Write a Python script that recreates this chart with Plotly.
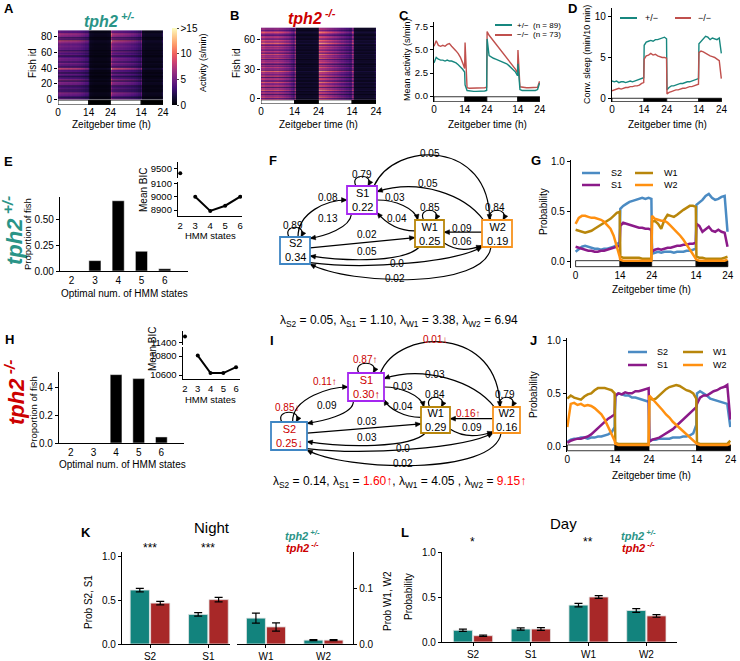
import plotly.graph_objects as go

W, H = 740, 661
FONT = "Liberation Sans, Arial, Helvetica, sans-serif"

# ---------------- data ----------------
T = [0, 1, 2, 3, 4, 5, 6, 7, 8, 9, 10, 11, 12, 13, 13.9,
     14.1, 15, 16, 17, 18, 19, 20, 21, 22, 23, 23.9,
     24.1, 25, 26, 27, 28, 29, 30, 31, 32, 33, 34, 35, 36, 37, 37.9,
     38.1, 39, 40, 41, 42, 43, 44, 45, 46, 47, 47.9]

act_het = [3.6, 4.2, 4.0, 3.9, 3.9, 3.8, 3.9, 3.8, 3.8, 3.7, 3.6, 3.4, 3.2, 2.9, 2.6,
           1.2, 0.6, 0.55, 0.5, 0.5, 0.5, 0.5, 0.5, 0.5, 0.55, 0.6,
           6.2, 4.4, 4.2, 4.1, 4.0, 3.9, 3.8, 3.7, 3.6, 3.5, 3.3, 3.1, 2.9, 2.6, 2.2,
           3.5, 0.7, 0.6, 0.6, 0.6, 0.6, 0.6, 0.6, 0.6, 0.7, 1.4]
act_mut = [5.4, 6.0, 5.5, 5.4, 5.5, 5.4, 5.6, 5.7, 5.4, 5.2, 4.9, 4.6, 4.2, 3.6, 3.0,
           5.8, 0.9, 0.85, 0.85, 0.85, 0.85, 0.85, 0.85, 0.9, 0.9, 0.95,
           7.0, 6.6, 6.3, 6.0, 5.7, 5.4, 5.1, 4.8, 4.5, 4.2, 3.9, 3.6, 3.3, 2.9, 2.5,
           5.0, 1.0, 0.95, 0.9, 0.9, 0.9, 0.9, 0.9, 0.9, 0.95, 1.6]
sleep_het = [2.1, 2.0, 2.1, 1.9, 2.0, 2.0, 1.9, 2.0, 2.1, 2.0, 2.1, 2.2, 2.3, 2.4, 2.5,
             6.5, 6.9, 7.0, 7.1, 7.0, 7.2, 7.2, 7.3, 7.4, 7.5, 7.3,
             1.0, 1.3, 1.5, 1.5, 1.6, 1.7, 1.8, 1.8, 1.9, 2.0, 2.0, 2.1, 2.2, 2.3, 2.4,
             6.7, 7.0, 7.4, 7.6, 7.5, 7.2, 7.4, 7.3, 7.2, 7.4, 5.5]
sleep_mut = [0.9, 1.0, 1.1, 1.2, 1.1, 1.2, 1.3, 1.3, 1.4, 1.4, 1.5, 1.5, 1.6, 1.8, 1.9,
             4.8, 5.2, 5.3, 5.5, 5.3, 5.4, 5.2, 5.1, 5.0, 5.0, 4.9,
             0.5, 0.7, 0.8, 0.9, 1.0, 1.0, 1.1, 1.2, 1.2, 1.3, 1.4, 1.4, 1.5, 1.6, 1.7,
             5.6, 5.8, 5.7, 5.5, 5.4, 5.2, 5.1, 5.0, 4.8, 4.6, 2.4]

A_levels = [1.2, 0.5, 1.5, 0.7, 1.0, 1.3, 0.4, 1.1, 1.6, 0.6, 1.0, 1.4, 0.5, 1.2, 0.7, 1.8, 1.0, 0.4, 1.3, 1.1,
            0.9, 1.5, 1.2, 0.4, 1.0, 1.7, 0.8, 1.1, 1.3, 0.5, 0.7, 1.2, 1.0, 1.6, 0.4, 1.1, 0.9, 1.4, 1.0, 2.4,
            1.3, 0.5, 1.0, 1.2, 0.8, 1.5, 0.4, 1.1, 0.6, 1.3, 1.0, 0.5, 1.4, 1.1, 0.9, 1.6, 0.4, 1.2, 1.0, 0.8,
            1.3, 1.5, 0.5, 1.1, 0.7, 1.2, 1.0, 1.4, 0.4, 1.1, 1.3, 0.9, 1.7, 1.0, 1.2, 2.3, 0.6, 1.1, 1.4, 0.5,
            1.2, 1.6, 1.0, 1.3, 2.0, 0.9, 1.5, 1.1, 1.0]
B_levels = [1.3, 0.6, 1.6, 1.0, 1.2, 0.5, 1.4, 1.1, 0.7, 1.8, 1.0, 1.3, 0.5, 1.5, 1.2, 0.9, 1.1, 1.7, 0.6, 1.0,
            1.4, 1.2, 0.5, 1.6, 1.0, 0.9, 1.3, 1.1, 1.9, 0.6, 1.2, 1.0, 1.5, 0.7, 1.3, 0.5, 1.1, 1.4, 1.0, 1.2,
            0.6, 1.6, 1.1, 0.9, 1.3, 1.0, 1.7, 0.6, 1.2, 1.4, 0.7, 1.1, 1.3, 1.0, 1.5, 0.6, 1.2, 1.9, 1.0, 1.3,
            1.6, 0.7, 1.1, 1.4, 1.2, 0.6, 1.0, 1.3, 1.7, 1.1, 0.7, 1.2, 1.0]

period_edges = [0, 14, 24, 38, 48]
period_phase = ['light', 'dark', 'light', 'dark']
time_tickvals = [0, 14, 24, 38, 48]
time_ticktext = ['0', '14', '24', '14', '24']

n_states = [2, 3, 4, 5, 6]
het_opt_prop = [0.0, 0.10, 0.676, 0.19, 0.022]
mut_opt_prop = [0.0, 0.0, 0.497, 0.468, 0.044]
het_bic = [9462, 9000, 8893, 8932, 9000]
mut_bic = [11480, 10805, 10620, 10620, 10683]

states = ['S2', 'S1', 'W1', 'W2']
het_occ = [0.34, 0.22, 0.25, 0.19]
mut_occ = [0.25, 0.30, 0.29, 0.16]
mut_occ_mark = ['↓', '↑', '', '']
het_lambda = [0.05, 1.10, 3.38, 6.94]
mut_lambda = [0.14, 1.60, 4.05, 9.15]
mut_lambda_mark = ['', '↑', '', '↑']
trans_pairs = [('S2', 'S2'), ('S1', 'S1'), ('W1', 'W1'), ('W2', 'W2'),
               ('S2', 'S1'), ('S1', 'S2'), ('S1', 'W1'), ('W1', 'S1'),
               ('W2', 'W1'), ('W1', 'W2'), ('S2', 'W1'), ('W1', 'S2'),
               ('S2', 'W2'), ('W2', 'S2'), ('S1', 'W2'), ('W2', 'S1')]
het_trans = [0.89, 0.79, 0.85, 0.84, 0.08, 0.13, 0.03, 0.04, 0.09, 0.06, 0.02, 0.05, 0.0, 0.02, 0.05, 0.05]
mut_trans = [0.85, 0.87, 0.84, 0.79, 0.11, 0.09, 0.03, 0.04, 0.16, 0.09, 0.03, 0.03, 0.0, 0.02, 0.01, 0.03]
mut_trans_mark = ['↓', '↑', '', '', '↑', '', '', '', '↑', '', '', '', '', '', '↓', '']

het_S2 = [0.10, 0.13, 0.15, 0.16, 0.15, 0.14, 0.13, 0.13, 0.12, 0.13, 0.13, 0.14, 0.15, 0.17, 0.20,
          0.53, 0.56, 0.58, 0.60, 0.61, 0.62, 0.63, 0.64, 0.63, 0.64, 0.63,
          0.08, 0.09, 0.10, 0.09, 0.10, 0.10, 0.10, 0.09, 0.10, 0.10, 0.10, 0.11, 0.11, 0.12, 0.13,
          0.57, 0.59, 0.62, 0.66, 0.68, 0.64, 0.62, 0.63, 0.65, 0.66, 0.30]
het_S1 = [0.15, 0.14, 0.13, 0.12, 0.11, 0.11, 0.10, 0.10, 0.11, 0.11, 0.12, 0.13, 0.14, 0.15, 0.16,
          0.36, 0.39, 0.38, 0.37, 0.36, 0.35, 0.34, 0.34, 0.33, 0.33, 0.32,
          0.10, 0.12, 0.13, 0.12, 0.13, 0.14, 0.14, 0.15, 0.16, 0.16, 0.17, 0.17, 0.18, 0.18, 0.19,
          0.38, 0.36, 0.30, 0.33, 0.35, 0.31, 0.30, 0.32, 0.30, 0.29, 0.15]
het_W1 = [0.32, 0.31, 0.30, 0.29, 0.30, 0.31, 0.33, 0.35, 0.37, 0.39, 0.41, 0.43, 0.46, 0.49, 0.50,
          0.05, 0.04, 0.04, 0.04, 0.04, 0.04, 0.04, 0.03, 0.03, 0.03, 0.03,
          0.40, 0.41, 0.38, 0.33, 0.42, 0.47, 0.46, 0.45, 0.47, 0.50, 0.52, 0.54, 0.56, 0.56, 0.55,
          0.05, 0.04, 0.04, 0.03, 0.03, 0.03, 0.03, 0.03, 0.03, 0.04, 0.05]
het_W2 = [0.38, 0.44, 0.46, 0.46, 0.45, 0.44, 0.44, 0.43, 0.42, 0.40, 0.37, 0.33, 0.26, 0.16, 0.05,
          0.02, 0.01, 0.01, 0.01, 0.01, 0.01, 0.01, 0.01, 0.01, 0.01, 0.01,
          0.46, 0.43, 0.42, 0.41, 0.41, 0.39, 0.36, 0.33, 0.30, 0.26, 0.22, 0.17, 0.13, 0.08, 0.03,
          0.02, 0.01, 0.01, 0.01, 0.01, 0.01, 0.01, 0.01, 0.01, 0.01, 0.02]
mut_S2 = [0.04, 0.06, 0.07, 0.07, 0.08, 0.08, 0.07, 0.08, 0.08, 0.09, 0.09, 0.10, 0.11, 0.13, 0.18,
          0.47, 0.50, 0.49, 0.48, 0.48, 0.46, 0.46, 0.45, 0.44, 0.43, 0.42,
          0.05, 0.06, 0.06, 0.07, 0.07, 0.07, 0.07, 0.08, 0.08, 0.08, 0.09, 0.09, 0.10, 0.12, 0.20,
          0.50, 0.52, 0.50, 0.48, 0.45, 0.44, 0.43, 0.42, 0.41, 0.40, 0.18]
mut_S1 = [0.03, 0.05, 0.06, 0.07, 0.07, 0.08, 0.09, 0.11, 0.14, 0.17, 0.20, 0.23, 0.26, 0.28, 0.30,
          0.48, 0.50, 0.49, 0.51, 0.50, 0.50, 0.52, 0.52, 0.53, 0.54, 0.55,
          0.04, 0.06, 0.07, 0.08, 0.10, 0.12, 0.14, 0.16, 0.19, 0.22, 0.25, 0.28, 0.31, 0.34, 0.37,
          0.40, 0.46, 0.48, 0.48, 0.50, 0.52, 0.53, 0.55, 0.56, 0.58, 0.25]
mut_W1 = [0.45, 0.48, 0.46, 0.45, 0.44, 0.47, 0.49, 0.50, 0.53, 0.55, 0.55, 0.55, 0.54, 0.53, 0.50,
          0.03, 0.02, 0.02, 0.02, 0.02, 0.02, 0.02, 0.02, 0.02, 0.02, 0.02,
          0.46, 0.44, 0.45, 0.48, 0.51, 0.54, 0.56, 0.57, 0.58, 0.57, 0.55, 0.53, 0.52, 0.50, 0.45,
          0.03, 0.02, 0.02, 0.02, 0.02, 0.02, 0.02, 0.02, 0.02, 0.02, 0.05]
mut_W2 = [0.18, 0.40, 0.41, 0.39, 0.40, 0.38, 0.39, 0.38, 0.36, 0.33, 0.30, 0.25, 0.18, 0.12, 0.05,
          0.02, 0.01, 0.01, 0.01, 0.01, 0.01, 0.01, 0.01, 0.01, 0.01, 0.01,
          0.48, 0.45, 0.41, 0.38, 0.34, 0.30, 0.27, 0.23, 0.20, 0.17, 0.14, 0.11, 0.08, 0.05, 0.03,
          0.02, 0.01, 0.01, 0.01, 0.01, 0.01, 0.01, 0.01, 0.01, 0.01, 0.02]

night_het = [0.62, 0.34, 0.047, 0.007]
night_het_err = [0.02, 0.02, 0.009, 0.001]
night_mut = [0.47, 0.51, 0.031, 0.007]
night_mut_err = [0.02, 0.025, 0.0075, 0.001]
day_het = [0.13, 0.144, 0.41, 0.35]
day_het_err = [0.012, 0.013, 0.02, 0.02]
day_mut = [0.07, 0.144, 0.50, 0.29]
day_mut_err = [0.008, 0.015, 0.015, 0.015]

# ---------------- styles ----------------
TEAL = '#17877f'
RED_L = '#c0504d'
TEAL_BAR = '#12837d'
RED_BAR = '#a82828'
T_TEAL = '#2a9487'
T_RED = '#cc0000'
STATE_COL = {'S2': '#4b8bc3', 'S1': '#8b1a89', 'W1': '#b8860b', 'W2': '#ff9010'}
BOX_COL = {'S2': '#3f86c4', 'S1': '#a526f0', 'W1': '#b8860b', 'W2': '#f7931e'}


def X(px):
    return px / W


def Y(py):
    return 1 - py / H


fig = go.Figure()
layout = {}
ann = []
shp = []

BASE = dict(showgrid=False, zeroline=False, showline=False, ticks='outside', ticklen=3, tickwidth=1,
            tickcolor='black', linecolor='black', linewidth=1.3,
            tickfont=dict(size=10, family=FONT, color='black'), fixedrange=True)


def axes(n, xpx, ypx, xr, yr, xkw=None, ykw=None):
    s = '' if n == 1 else str(n)
    xa = dict(BASE)
    xa.update(domain=[X(xpx[0]), X(xpx[1])], range=xr, anchor='y' + s)
    if xkw:
        xa.update(xkw)
    ya = dict(BASE)
    ya.update(domain=[Y(ypx[1]), Y(ypx[0])], range=yr, anchor='x' + s)
    if ykw:
        ya.update(ykw)
    layout['xaxis' + s] = xa
    layout['yaxis' + s] = ya
    return 'x' + s, 'y' + s


def text(s, px, py, size=10, color='black', angle=0, xa='center', ya='middle'):
    ann.append(dict(text=s, x=X(px), y=Y(py), xref='paper', yref='paper', showarrow=False,
                    xanchor=xa, yanchor=ya, textangle=angle,
                    font=dict(size=size, color=color, family=FONT)))


def lightbar(xr, yr, y0, y1):
    for a, b, ph in zip(period_edges[:-1], period_edges[1:], period_phase):
        shp.append(dict(type='rect', xref=xr, yref=yr, x0=a, x1=b, y0=y0, y1=y1,
                        fillcolor='white' if ph == 'light' else 'black',
                        line=dict(color='black', width=0.8), layer='below'))


def legline(x0, x1, y, color, width=2.5):
    shp.append(dict(type='line', xref='paper', yref='paper', x0=X(x0), x1=X(x1), y0=Y(y), y1=Y(y),
                    line=dict(color=color, width=width)))


def ticks_of(vals):
    return dict(tickvals=vals, ticktext=[str(v) for v in vals])


TIME_X = dict(tickvals=time_tickvals, ticktext=time_ticktext, ticks='')
HIDDEN_X = dict(showticklabels=False, ticks='', showline=False)
INSET_T = dict(tickfont=dict(size=9.5, family=FONT, color='black'))

# ---------------- A ----------------
xa, ya = axes(1, (58, 163), (28, 105), [0, 48], [-7.74, 91.6], TIME_X, ticks_of([0, 20, 40, 60, 80]))
fig.add_trace(go.Heatmap(x=T, y=list(range(len(A_levels))), z=[[lv * a for a in act_het] for lv in A_levels],
                         colorscale='Magma', zmin=0, zmax=15, xaxis=xa, yaxis=ya, hoverinfo='skip',
                         colorbar=dict(x=X(172), xanchor='left', y=Y(105), yanchor='bottom', len=77 / H,
                                       lenmode='fraction', thickness=5, thicknessmode='pixels', xpad=0, ypad=0,
                                       outlinewidth=0, tickvals=[0, 5, 10, 15], ticktext=['0', '5', '10', '>15'],
                                       ticks='outside', ticklen=2, tickfont=dict(size=10, family=FONT))))
lightbar(xa, ya, -7.6, -1.4)

# ---------------- B ----------------
xa, ya = axes(2, (261, 376), (27, 104), [0, 48], [-5.1, 73.2], TIME_X, ticks_of([0, 30, 60]))
fig.add_trace(go.Heatmap(x=T, y=list(range(len(B_levels))), z=[[lv * a for a in act_mut] for lv in B_levels],
                         colorscale='Magma', zmin=0, zmax=15, showscale=False, xaxis=xa, yaxis=ya, hoverinfo='skip'))
lightbar(xa, ya, -5.0, -0.9)

# ---------------- C ----------------
xa, ya = axes(3, (434, 540), (22, 102), [0, 48.1], [-0.65, 8.04], TIME_X,
              dict(tickvals=[0, 2.5, 5, 7.5], ticktext=['0.0', '2.5', '5.0', '7.5'], showline=True,
                   tickfont=dict(size=9.5, family=FONT, color='black')))
fig.add_trace(go.Scatter(x=T, y=act_mut, mode='lines', line=dict(color=RED_L, width=1.4), xaxis=xa, yaxis=ya))
fig.add_trace(go.Scatter(x=T, y=act_het, mode='lines', line=dict(color=TEAL, width=1.4), xaxis=xa, yaxis=ya))
lightbar(xa, ya, -0.62, -0.08)
legline(495, 512, 25, TEAL, 2)
legline(495, 512, 35, RED_L, 2)
text('+/−  (n = 89)', 515, 25, 8, xa='left')
text('−/−  (n = 73)', 515, 35, 8, xa='left')

# ---------------- D ----------------
xa, ya = axes(4, (612, 722), (8, 102), [0, 48.2], [-0.49, 11.1], TIME_X,
              dict(ticks_of([0, 5, 10]), showline=True))
fig.add_trace(go.Scatter(x=T, y=sleep_het, mode='lines', line=dict(color=TEAL, width=1.4), xaxis=xa, yaxis=ya))
fig.add_trace(go.Scatter(x=T, y=sleep_mut, mode='lines', line=dict(color=RED_L, width=1.4), xaxis=xa, yaxis=ya))
lightbar(xa, ya, -0.45, -0.03)
legline(620, 637, 18, TEAL, 2)
legline(675, 691, 18, RED_L, 2)
text('+/−', 643, 18, 9, xa='left')
text('−/−', 696, 18, 9, xa='left')

# ---------------- E ----------------
xa, ya = axes(5, (60, 188), (197, 271), [1.5, 7.0], [0, 0.712], dict(ticks_of(n_states), showline=True, ticks=''),
              dict(tickvals=[0, 0.25, 0.5], ticktext=['0.00', '0.25', '0.50'], showline=True))
fig.add_trace(go.Bar(x=n_states, y=het_opt_prop, width=0.52, marker=dict(color='black', line=dict(color='white', width=0.5)),
                     xaxis=xa, yaxis=ya))
xa, ya = axes(6, (178, 242), (162, 178), [1.85, 6.12], [9427, 9547], HIDDEN_X,
              dict(ticks_of([9500]), showline=True, **INSET_T))
fig.add_trace(go.Scatter(x=n_states[:1], y=het_bic[:1], mode='markers', marker=dict(color='black', size=4),
                         xaxis=xa, yaxis=ya))
xa, ya = axes(7, (178, 242), (182, 216), [1.85, 6.12], [8855, 9110],
              dict(ticks_of(n_states), showline=True, ticks='', **INSET_T),
              dict(ticks_of([8900, 9000, 9100]), showline=True, **INSET_T))
fig.add_trace(go.Scatter(x=n_states[1:], y=het_bic[1:], mode='lines+markers', line=dict(color='black', width=2),
                         marker=dict(color='black', size=4), xaxis=xa, yaxis=ya))

# ---------------- H ----------------
xa, ya = axes(8, (59, 184), (372, 443), [1.48, 7.0], [0, 0.516], dict(ticks_of(n_states), showline=True, ticks=''),
              dict(tickvals=[0, 0.2, 0.4], ticktext=['0.0', '0.2', '0.4'], showline=True))
fig.add_trace(go.Bar(x=n_states, y=mut_opt_prop, width=0.52, marker=dict(color='black', line=dict(color='white', width=0.5)),
                     xaxis=xa, yaxis=ya))
xa, ya = axes(9, (182.7, 239.5), (331, 345), [1.82, 6.27], [11360, 11560], HIDDEN_X,
              dict(ticks_of([11400]), showline=True, **INSET_T))
fig.add_trace(go.Scatter(x=n_states[:1], y=mut_bic[:1], mode='markers', marker=dict(color='black', size=4),
                         xaxis=xa, yaxis=ya))
xa, ya = axes(10, (182.7, 239.5), (347, 379), [1.82, 6.27], [10558, 10895],
              dict(ticks_of(n_states), showline=True, ticks='', **INSET_T),
              dict(ticks_of([10600, 10800]), showline=True, **INSET_T))
fig.add_trace(go.Scatter(x=n_states[1:], y=mut_bic[1:], mode='lines+markers', line=dict(color='black', width=2),
                         marker=dict(color='black', size=4), xaxis=xa, yaxis=ya))

# ---------------- G / J ----------------
PROB_Y = dict(tickvals=[0, 0.5, 1], ticktext=['0.0', '0.5', '1.0'], showline=True)
xa, ya = axes(11, (571, 731), (160, 268), [-1.45, 49.0], [-0.0634, 1.02], TIME_X, PROB_Y)
lightbar(xa, ya, -0.05, 0.01)
for st, ser in zip(states, [het_S2, het_S1, het_W1, het_W2]):
    fig.add_trace(go.Scatter(x=T, y=ser, mode='lines', line=dict(color=STATE_COL[st], width=2.5), xaxis=xa, yaxis=ya))
xa, ya = axes(12, (567, 731), (338, 452), [-0.1, 48.1], [-0.057, 1.026], TIME_X, PROB_Y)
lightbar(xa, ya, -0.045, 0.01)
for st, ser in zip(states, [mut_S2, mut_S1, mut_W1, mut_W2]):
    fig.add_trace(go.Scatter(x=T, y=ser, mode='lines', line=dict(color=STATE_COL[st], width=2.5), xaxis=xa, yaxis=ya))

for (lx0, lx1, tx, ly0, ly1) in [(582, 600, 609, 173, 185), (628, 647, 655, 352, 365)]:
    legline(lx0, lx1, ly0, STATE_COL['S2'], 2.5)
    legline(lx0, lx1, ly1, STATE_COL['S1'], 2.5)
    text('S2', tx, ly0, 9, xa='left')
    text('S1', tx, ly1, 9, xa='left')
for (lx0, lx1, tx, ly0, ly1) in [(635, 653, 662, 173, 185), (683, 703, 711, 352, 365)]:
    legline(lx0, lx1, ly0, STATE_COL['W1'], 2.5)
    legline(lx0, lx1, ly1, STATE_COL['W2'], 2.5)
    text('W1', tx, ly0, 9, xa='left')
    text('W2', tx, ly1, 9, xa='left')

# ---------------- K ----------------
BAR_OUT = dict(color='#e6e6e6', width=0.8)
ERR = dict(thickness=1.2, width=4, color='black')
xa, ya = axes(13, (122, 230), (552, 644), [-0.48, 1.37], [0, 1.057],
              dict(tickvals=[0, 1], ticktext=states[:2], showline=True),
              dict(tickvals=[0, 0.5, 1], ticktext=['0.0', '0.5', '1.0'], showline=True))
fig.add_trace(go.Bar(x=[0, 1], y=night_het[:2], width=0.33, offset=-0.34, marker=dict(color=TEAL_BAR, line=BAR_OUT),
                     error_y=dict(type='data', array=night_het_err[:2], **ERR), xaxis=xa, yaxis=ya))
fig.add_trace(go.Bar(x=[0, 1], y=night_mut[:2], width=0.33, offset=0.01, marker=dict(color=RED_BAR, line=BAR_OUT),
                     error_y=dict(type='data', array=night_mut_err[:2], **ERR), xaxis=xa, yaxis=ya))
xa, ya = axes(14, (237, 353), (552, 644), [-0.504, 1.513], [0, 0.167],
              dict(tickvals=[0, 1], ticktext=states[2:], showline=True),
              dict(tickvals=[0, 0.1], ticktext=['0.0', '0.1'], showline=True, side='right'))
fig.add_trace(go.Bar(x=[0, 1], y=night_het[2:], width=0.33, offset=-0.34, marker=dict(color=TEAL_BAR, line=BAR_OUT),
                     error_y=dict(type='data', array=night_het_err[2:], **ERR), xaxis=xa, yaxis=ya))
fig.add_trace(go.Bar(x=[0, 1], y=night_mut[2:], width=0.33, offset=0.01, marker=dict(color=RED_BAR, line=BAR_OUT),
                     error_y=dict(type='data', array=night_mut_err[2:], **ERR), xaxis=xa, yaxis=ya))

# ---------------- L ----------------
xa, ya = axes(15, (442, 677), (552, 642), [-0.537, 3.53], [0, 1.0],
              dict(tickvals=[0, 1, 2, 3], ticktext=states, showline=True),
              dict(tickvals=[0, 0.5, 1], ticktext=['0.0', '0.5', '1.0'], showline=True))
fig.add_trace(go.Bar(x=[0, 1, 2, 3], y=day_het, width=0.33, offset=-0.34, marker=dict(color=TEAL_BAR, line=BAR_OUT),
                     error_y=dict(type='data', array=day_het_err, **ERR), xaxis=xa, yaxis=ya))
fig.add_trace(go.Bar(x=[0, 1, 2, 3], y=day_mut, width=0.33, offset=0.01, marker=dict(color=RED_BAR, line=BAR_OUT),
                     error_y=dict(type='data', array=day_mut_err, **ERR), xaxis=xa, yaxis=ya))

# ---------------- state diagrams F / I ----------------
F_nodes = {'S2': (280, 237, 310, 264), 'S1': (347, 186, 377, 214), 'W1': (415, 220, 444, 247), 'W2': (482, 220, 512, 247)}
I_nodes = {'S2': (271, 422, 307, 450), 'S1': (348, 373, 384, 401), 'W1': (421, 407, 450, 433), 'W2': (493, 407, 520, 433)}
EDGE_GEOM = [
    (('t', 0.6), (3, -38.5), (-35, 0), ('l', 0.5)),
    (('b', 0.15), (-12, 28), (30, -14.5), ('r', 0.05)),
    (('r', 0.5), (33, 0), (-14.5, -25.5), ('t', 0.1)),
    (('l', 0.4), (-31.5, -2.5), (23, 22), ('r', 0.95)),
    (('l', 0.45), None, None, ('r', 0.45)),
    (('r', 0.85), (28.5, 18.5), (-27, 16.5), ('l', 0.95)),
    (('r', 0.4), None, None, ('l', 0.65)),
    (('b', 0.15), (-24.5, 28.5), (55, 11.5), ('r', 0.7)),
    (('r', 0.95), (75, 19.5), (-42, 28.5), ('l', 1.0)),
    (('b', 0.3), (-12, 56.5), (55, 34.5), ('r', 1.0)),
    (('t', 0.9), (33, -60), (-7, -93.5), ('t', 0.25)),
    (('t', 0.05), (-32, -38.5), (58, -22), ('r', 0.2)),
]
F_lab = [(293, 225), (362, 174), (430, 208), (495, 208), (328, 197), (328, 218), (395, 197), (397, 218),
         (462, 228), (462, 241), (367, 235), (367, 252), (397, 263), (395, 278), (430, 153), (428, 183)]
I_lab = [(287, 407), (365, 359), (435, 395), (505, 395), (325, 381), (327, 405), (403, 386), (403, 406),
         (468, 413), (472, 427), (367, 421), (367, 437), (403, 448), (403, 463), (435, 339), (435, 374)]


def anchor(box, side, f):
    x0, y0, x1, y1 = box
    if side == 't':
        return (x0 + f * (x1 - x0), y0)
    if side == 'b':
        return (x0 + f * (x1 - x0), y1)
    if side == 'l':
        return (x0, y0 + f * (y1 - y0))
    return (x1, y0 + f * (y1 - y0))


def center(box):
    return ((box[0] + box[2]) / 2, (box[1] + box[3]) / 2)


def P(p):
    return f'{X(p[0]):.5f},{Y(p[1]):.5f}'


def arrowhead(tip, frm, L=5.5, w=2.4):
    dx, dy = tip[0] - frm[0], tip[1] - frm[1]
    d = (dx * dx + dy * dy) ** 0.5 or 1.0
    ux, uy = dx / d, dy / d
    bx, by = tip[0] - L * ux, tip[1] - L * uy
    nx, ny = -uy, ux
    pts = [tip, (bx + w * nx, by + w * ny), (bx - w * nx, by - w * ny)]
    shp.append(dict(type='path', xref='paper', yref='paper', path='M' + ' L'.join(P(p) for p in pts) + ' Z',
                    fillcolor='black', line=dict(color='black', width=0.5)))


def fmt(v):
    return '0.0' if v == 0 else f'{v:.2f}'


def diagram(nodes, occ, occ_mark, trans, marks, labpos):
    for k, (src, tgt) in enumerate(trans_pairs):
        if src == tgt:
            x0, y0, x1, y1 = nodes[src]
            p0 = (x0 + 0.3 * (x1 - x0), y0)
            p1 = (x0 + 0.7 * (x1 - x0), y0)
            c1 = (p0[0] - 7, y0 - 13)
            c2 = (p1[0] + 7, y0 - 13)
            frm = c2
        else:
            g = EDGE_GEOM[k - 4]
            p0 = anchor(nodes[src], *g[0])
            p1 = anchor(nodes[tgt], *g[3])
            if g[1] is None:
                c1, c2, frm = p0, p1, p0
            else:
                cs, ct = center(nodes[src]), center(nodes[tgt])
                c1 = (cs[0] + g[1][0], cs[1] + g[1][1])
                c2 = (ct[0] + g[2][0], ct[1] + g[2][1])
                frm = c2
        shp.append(dict(type='path', xref='paper', yref='paper',
                        path=f'M{P(p0)} C{P(c1)} {P(c2)} {P(p1)}', line=dict(color='black', width=1.2)))
        arrowhead(p1, frm)
        mk = marks[k] if marks else ''
        text(fmt(trans[k]) + mk, labpos[k][0], labpos[k][1], 10, T_RED if mk else 'black')
    for i, st in enumerate(states):
        x0, y0, x1, y1 = nodes[st]
        shp.append(dict(type='rect', xref='paper', yref='paper', x0=X(x0), x1=X(x1), y0=Y(y1), y1=Y(y0),
                        fillcolor='white', line=dict(color=BOX_COL[st], width=1.8)))
        mk = occ_mark[i] if occ_mark else ''
        cx, cy = center(nodes[st])
        text(f'{st}<br>{occ[i]:.2f}{mk}', cx, cy, 11, T_RED if mk else 'black')


diagram(F_nodes, het_occ, None, het_trans, None, F_lab)
diagram(I_nodes, mut_occ, mut_occ_mark, mut_trans, mut_trans_mark, I_lab)

lam_f = ', '.join(f'λ<sub>{s}</sub> = {v:.2f}' for s, v in zip(states, het_lambda))
text(lam_f, 399, 321, 12)
parts = []
for s, v, m in zip(states, mut_lambda, mut_lambda_mark):
    if m:
        parts.append(f"λ<sub>{s}</sub> = <span style='color:red'>{v:.2f}<b>{m}</b></span>")
    else:
        parts.append(f'λ<sub>{s}</sub> = {v:.2f}' + (' ' if s == 'W1' else ''))
text(', '.join(parts), 399, 482, 12)

# ---------------- titles & labels ----------------
for L_, px, py in [('A', 9, 8), ('B', 234, 15), ('C', 404, 15), ('D', 572, 8), ('E', 8, 162), ('F', 273, 160),
                   ('G', 536, 160), ('H', 9, 339), ('I', 272, 340), ('J', 533, 340), ('K', 86, 532), ('L', 405, 532)]:
    text(f'<b>{L_}</b>', px, py, 13)

text('<b><i>tph2<sup> +/-</sup></i></b>', 109, 20, 16, T_TEAL)
text('<b><i>tph2<sup> -/-</sup></i></b>', 312, 17, 16, T_RED)
text('<b><i>tph2<sup> +/-</sup></i></b>', 13, 231, 22, T_TEAL, -90)
text('<b><i>tph2<sup> -/-</sup></i></b>', 15, 393, 22, T_RED, -90)

text('Fish id', 32, 64, 10, angle=-90)
text('Fish id', 236, 64, 10, angle=-90)
text('Activity (s/min)', 203, 62, 9, angle=-90)
text('Mean activity (s/min)', 407, 60, 9, angle=-90)
text('Conv. sleep (min/10 min)', 587, 55, 9, angle=-90)
for px, py in [(111, 125), (318, 125), (487, 124), (667, 124), (651, 289), (651, 475)]:
    text('Zeitgeber time (h)', px, py, 10)
text('Proportion of fish', 27, 234, 9.5, angle=-90)
text('Optimal num. of HMM states', 124, 293, 10)
text('Mean BIC', 144, 190, 10, angle=-90)
text('HMM states', 211, 236, 9.5)
text('Proportion of fish', 33, 412, 9.5, angle=-90)
text('Optimal num. of HMM states', 122, 464, 10)
text('Mean BIC', 152, 349, 10, angle=-90)
text('HMM states', 211, 399, 9.5)
text('Probability', 543, 212, 10, angle=-90)
text('Probability', 534, 395, 10, angle=-90)
text('Prob S2, S1', 88, 602, 10, angle=-90)
text('Prob W1, W2', 387, 601, 10, angle=-90)
text('Probability', 408, 597, 10, angle=-90)
text('Night', 212, 527, 15)
text('Day', 563, 523, 15)
text('***', 150, 548, 12)
text('***', 208, 548, 12)
text('*', 472, 542, 12)
text('**', 588, 542, 12)
for px in (302, 638):
    text('<b><i>tph2<sup> +/-</sup></i></b>', px, 535, 11, T_TEAL)
    text('<b><i>tph2<sup> -/-</sup></i></b>', px, 547, 11, T_RED)

fig.update_layout(width=W, height=H, autosize=False, margin=dict(l=0, r=0, t=0, b=0), template='none',
                  paper_bgcolor='white', plot_bgcolor='rgba(0,0,0,0)', showlegend=False,
                  font=dict(family=FONT, size=10, color='black'), annotations=ann, shapes=shp, **layout)
fig.write_html('out.html')
